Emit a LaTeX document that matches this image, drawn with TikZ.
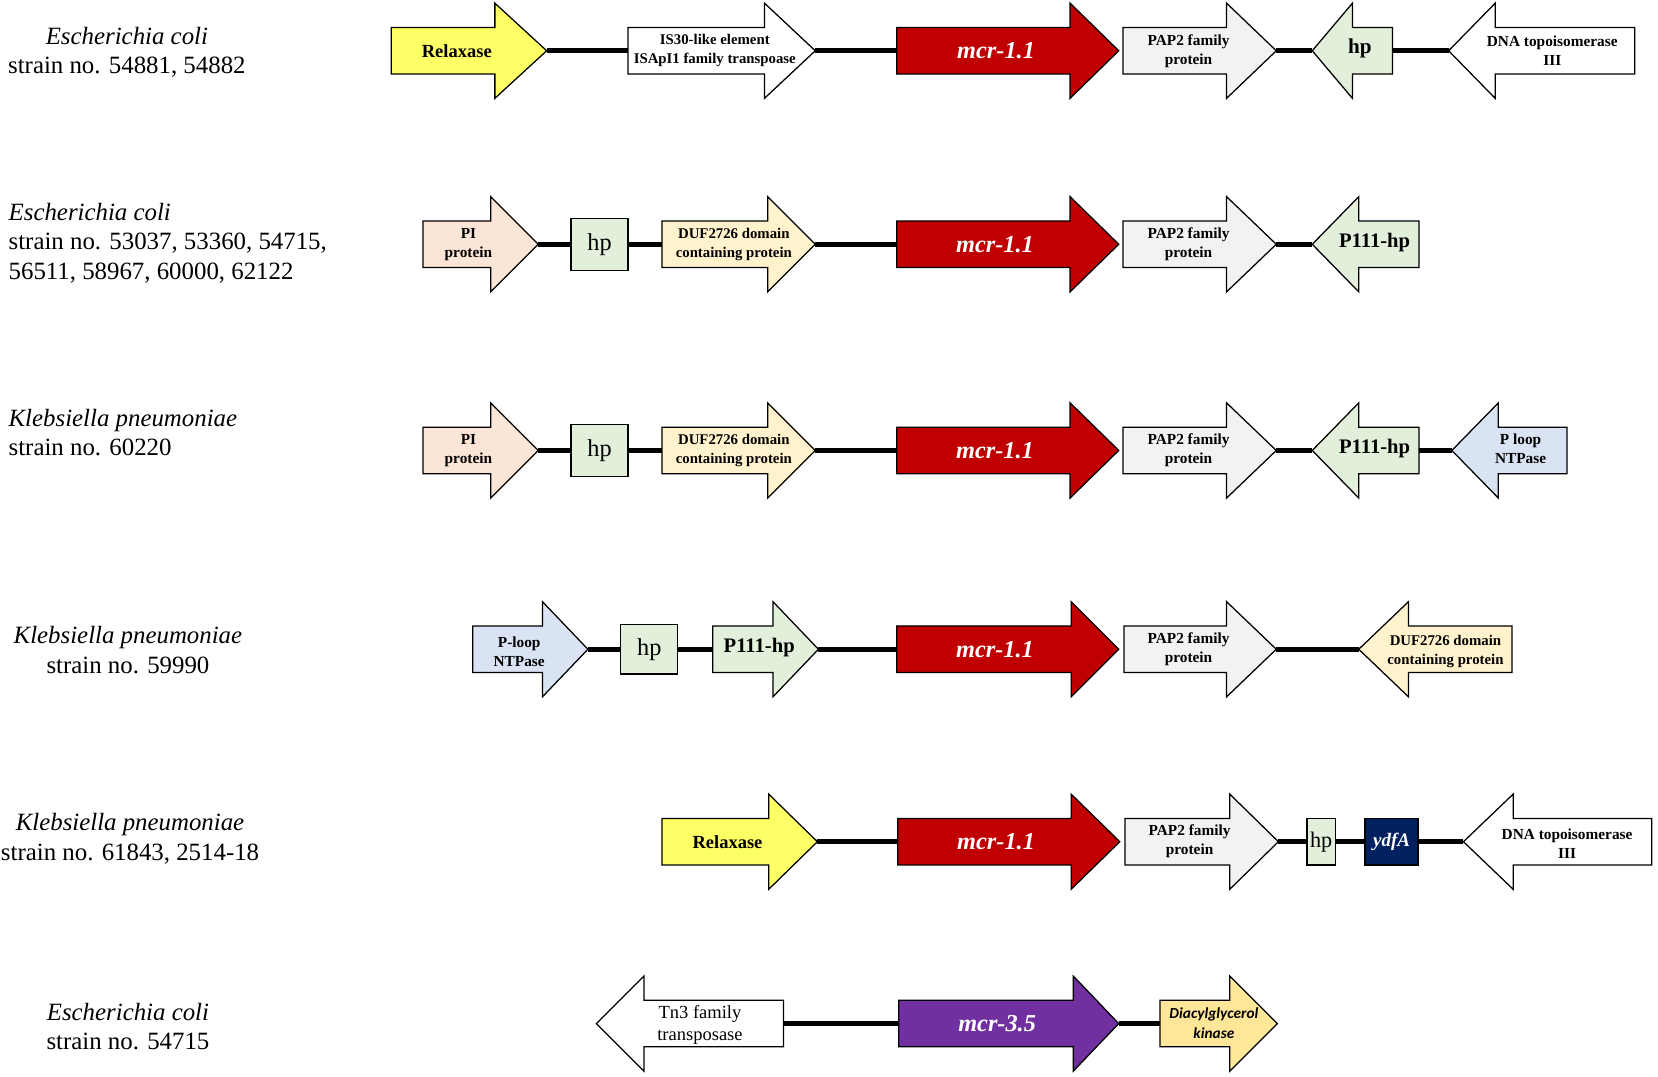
\documentclass[tikz,border=0pt]{standalone}
\usepackage{fontspec}
\setmainfont{Liberation Serif}
\newfontfamily\calfont{Carlito}

\definecolor{relaxyellow}{RGB}{255,255,102}
\definecolor{mcrred}{RGB}{192,0,0}
\definecolor{papgray}{RGB}{242,242,242}
\definecolor{hpgreen}{RGB}{226,239,218}
\definecolor{pipeach}{RGB}{251,229,214}
\definecolor{dufcream}{RGB}{255,242,204}
\definecolor{ploopblue}{RGB}{218,227,243}
\definecolor{ydfanavy}{RGB}{0,32,96}
\definecolor{mcrpurple}{RGB}{112,48,160}
\definecolor{dgkorange}{RGB}{255,230,153}

% gene arrows: name, tail x, head base x, tip x, y, fill
\newcommand{\generight}[6]{%
  \draw[gene, fill=#6] (#2,#5-22) -- (#3,#5-22) -- (#3,#5-45) -- (#4,#5) -- (#3,#5+45) -- (#3,#5+22) -- (#2,#5+22) -- cycle;
  \coordinate (#1-l) at (#2,#5);
  \coordinate (#1-r) at (#4,#5);
}
% gene arrows: name, tip x, head base x, tail x, y, fill
\newcommand{\geneleft}[6]{%
  \draw[gene, fill=#6] (#4,#5-22) -- (#3,#5-22) -- (#3,#5-45) -- (#2,#5) -- (#3,#5+45) -- (#3,#5+22) -- (#4,#5+22) -- cycle;
  \coordinate (#1-l) at (#2,#5);
  \coordinate (#1-r) at (#4,#5);
}

\begin{document}
\begin{tikzpicture}[x=1pt, y=-1pt,
    gene/.style={draw=black, line width=1.2pt, line join=miter},
    genebox/.style={draw=black, line width=1.2pt, inner sep=0pt},
    link/.style={line width=4.8pt},
    species/.style={font=\fontsize{23.5}{28}\selectfont, inner sep=0pt},
    gtxt/.style={font=\bfseries\fontsize{14.5}{18}\selectfont, align=center, inner sep=0pt},
    bigtxt/.style={font=\bfseries\fontsize{18}{20}\selectfont, inner sep=0pt},
    mcrtxt/.style={font=\bfseries\itshape\fontsize{23}{26}\selectfont, text=white, inner sep=0pt},
    hptxt/.style={font=\fontsize{23}{26}\selectfont}]

    \useasboundingbox (0,0) rectangle (1568,1018);

    % Row 1: E. coli 54881, 54882
    \node[species, align=center] (lab1) at (120,49.5) {\textit{Escherichia coli}\\strain no. 54881, 54882};
    \generight{relax1}{370}{468}{517}{48}{relaxyellow}
    \generight{is1}{594}{723}{771}{48}{white}
    \generight{mcr1}{848}{1012}{1058}{48}{mcrred}
    \generight{pap1}{1062}{1160}{1207}{48}{papgray}
    \geneleft{hp1}{1241}{1279}{1317}{48}{hpgreen}
    \geneleft{topo1}{1370}{1414}{1546}{48}{white}
    \node[bigtxt, font=\bfseries\fontsize{17.5}{20}\selectfont] (relax1t) at (432,48) {Relaxase};
    \node[gtxt, font=\bfseries\fontsize{14}{18}\selectfont] (is1t) at (676,48) {IS30-like element\\ISApI1 family transpoase};
    \node[mcrtxt] (mcr1t) at (942,48) {mcr-1.1};
    \node[gtxt] (pap1t) at (1124,48) {PAP2 family\\protein};
    \node[bigtxt, font=\bfseries\fontsize{20}{22}\selectfont] (hp1t) at (1286,46) {hp};
    \node[gtxt] (topo1t) at (1468,48) {DNA topoisomerase\\III};
    \draw[link] (relax1-r) -- (is1-l);
    \draw[link] (is1-r) -- (mcr1-l);
    \draw[link] (pap1-r) -- (hp1-l);
    \draw[link] (hp1-r) -- (topo1-l);

    % Row 2: E. coli 53037 ... 62122
    \node[species, align=left, anchor=west] (lab2) at (8,230) {\textit{Escherichia coli}\\strain no. 53037, 53360, 54715,\\56511, 58967, 60000, 62122};
    \generight{pi2}{400}{464}{509}{231}{pipeach}
    \node[genebox, fill=hpgreen, minimum width=54, minimum height=49, hptxt] (hp2) at (567,231) {hp};
    \generight{duf2}{626}{726}{771}{231}{dufcream}
    \generight{mcr2}{848}{1012}{1058}{231}{mcrred}
    \generight{pap2}{1062}{1160}{1207}{231}{papgray}
    \geneleft{p111b}{1241}{1285}{1342}{231}{hpgreen}
    \node[gtxt] (pi2t) at (443,231) {PI\\protein};
    \node[gtxt, font=\bfseries\fontsize{14}{18}\selectfont] (duf2t) at (694,231) {DUF2726 domain\\containing protein};
    \node[mcrtxt] (mcr2t) at (941,231) {mcr-1.1};
    \node[gtxt] (pap2t) at (1124,231) {PAP2 family\\protein};
    \node[bigtxt, font=\bfseries\fontsize{19.5}{22}\selectfont] (p111bt) at (1300,229) {P111-hp};
    \draw[link] (pi2-r) -- (hp2.west);
    \draw[link] (hp2.east) -- (duf2-l);
    \draw[link] (duf2-r) -- (mcr2-l);
    \draw[link] (pap2-r) -- (p111b-l);

    % Row 3: K. pneumoniae 60220
    \node[species, align=left, anchor=west] (lab3) at (8,409) {\textit{Klebsiella pneumoniae}\\strain no. 60220};
    \generight{pi3}{400}{464}{509}{426}{pipeach}
    \node[genebox, fill=hpgreen, minimum width=54, minimum height=49, hptxt] (hp3) at (567,426) {hp};
    \generight{duf3}{626}{726}{771}{426}{dufcream}
    \generight{mcr3}{848}{1012}{1058}{426}{mcrred}
    \generight{pap3}{1062}{1160}{1207}{426}{papgray}
    \geneleft{p111c}{1241}{1285}{1342}{426}{hpgreen}
    \geneleft{ploop3}{1373}{1417}{1482}{426}{ploopblue}
    \node[gtxt] (pi3t) at (443,426) {PI\\protein};
    \node[gtxt, font=\bfseries\fontsize{14}{18}\selectfont] (duf3t) at (694,426) {DUF2726 domain\\containing protein};
    \node[mcrtxt] (mcr3t) at (941,426) {mcr-1.1};
    \node[gtxt] (pap3t) at (1124,426) {PAP2 family\\protein};
    \node[bigtxt, font=\bfseries\fontsize{19.5}{22}\selectfont] (p111ct) at (1300,424) {P111-hp};
    \node[gtxt] (ploop3t) at (1438,424) {P loop\\NTPase};
    \draw[link] (pi3-r) -- (hp3.west);
    \draw[link] (hp3.east) -- (duf3-l);
    \draw[link] (duf3-r) -- (mcr3-l);
    \draw[link] (pap3-r) -- (p111c-l);
    \draw[link] (p111c-r) -- (ploop3-l);

    % Row 4: K. pneumoniae 59990
    \node[species, align=center] (lab4) at (121,615) {\textit{Klebsiella pneumoniae}\\strain no. 59990};
    \generight{ploop4}{447}{513}{556}{614}{ploopblue}
    \node[genebox, fill=hpgreen, minimum width=54, minimum height=47, hptxt] (hp4) at (614,614) {hp};
    \generight{p111d}{674}{731}{774}{614}{hpgreen}
    \generight{mcr4}{848}{1013}{1058}{614}{mcrred}
    \generight{pap4}{1063}{1160}{1207}{614}{papgray}
    \geneleft{duf4}{1285}{1332}{1430}{614}{dufcream}
    \node[gtxt] (ploop4t) at (491,616) {P-loop\\NTPase};
    \node[bigtxt, font=\bfseries\fontsize{19.5}{22}\selectfont] (p111dt) at (718,612) {P111-hp};
    \node[mcrtxt] (mcr4t) at (941,614) {mcr-1.1};
    \node[gtxt] (pap4t) at (1124,614) {PAP2 family\\protein};
    \node[gtxt, font=\bfseries\fontsize{14}{18}\selectfont] (duf4t) at (1367,616) {DUF2726 domain\\containing protein};
    \draw[link] (ploop4-r) -- (hp4.west);
    \draw[link] (hp4.east) -- (p111d-l);
    \draw[link] (p111d-r) -- (mcr4-l);
    \draw[link] (pap4-r) -- (duf4-l);

    % Row 5: K. pneumoniae 61843, 2514-18
    \node[species, align=center] (lab5) at (123,793) {\textit{Klebsiella pneumoniae}\\strain no. 61843, 2514-18};
    \generight{relax5}{626}{727}{773}{796}{relaxyellow}
    \generight{mcr5}{849}{1013}{1059}{796}{mcrred}
    \generight{pap5}{1064}{1163}{1209}{796}{papgray}
    \node[genebox, fill=hpgreen, minimum width=27, minimum height=44, font=\fontsize{21}{24}\selectfont] (hp5) at (1249.5,796) {hp};
    \node[genebox, fill=ydfanavy, minimum width=50, minimum height=44, text=white, font=\bfseries\itshape\fontsize{18}{20}\selectfont] (ydfa5) at (1316,796) {ydfA};
    \geneleft{topo5}{1384}{1431}{1562}{796}{white}
    \node[bigtxt, font=\bfseries\fontsize{17.5}{20}\selectfont] (relax5t) at (688,796) {Relaxase};
    \node[mcrtxt] (mcr5t) at (942,796) {mcr-1.1};
    \node[gtxt] (pap5t) at (1125,796) {PAP2 family\\protein};
    \node[gtxt] (topo5t) at (1482,798) {DNA topoisomerase\\III};
    \draw[link] (relax5-r) -- (mcr5-l);
    \draw[link] (pap5-r) -- (hp5.west);
    \draw[link] (hp5.east) -- (ydfa5.west);
    \draw[link] (ydfa5.east) -- (topo5-l);

    % Row 6: E. coli 54715 (mcr-3.5)
    \node[species, align=center] (lab6) at (121,971) {\textit{Escherichia coli}\\strain no. 54715};
    \geneleft{tn3}{564}{609}{741}{968}{white}
    \generight{mcr6}{850}{1015}{1058}{968}{mcrpurple}
    \generight{dgk6}{1097}{1163}{1208}{968}{dgkorange}
    \node[align=center, inner sep=0pt, font=\fontsize{17.5}{21}\selectfont] (tn3t) at (662,969) {Tn3 family\\transposase};
    \node[mcrtxt] (mcr6t) at (943,968) {mcr-3.5};
    \node[align=center, inner sep=0pt, font=\calfont\bfseries\itshape\fontsize{14.5}{19}\selectfont] (dgk6t) at (1148,968) {Diacylglycerol\\kinase};
    \draw[link] (tn3-r) -- (mcr6-l);
    \draw[link] (mcr6-r) -- (dgk6-l);
\end{tikzpicture}
\end{document}
